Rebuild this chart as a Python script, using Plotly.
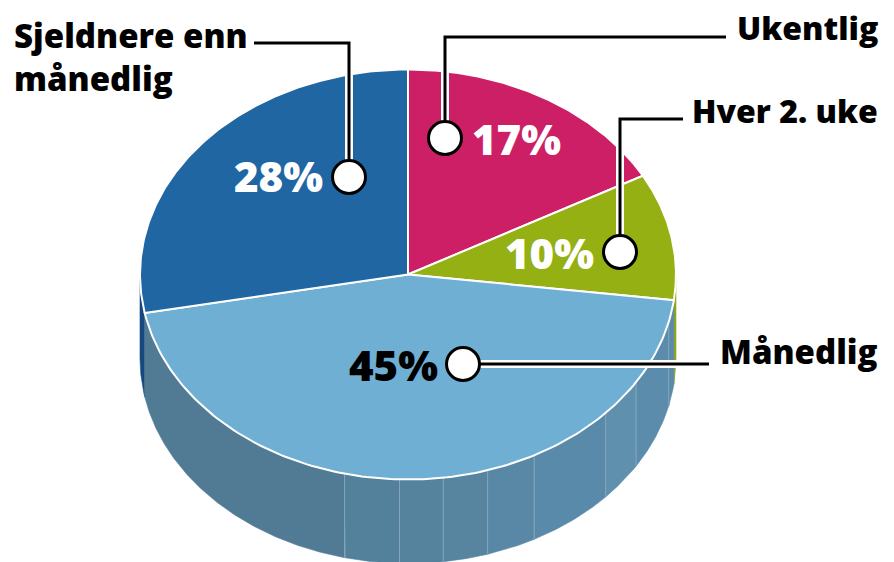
import numpy as np
import plotly.graph_objects as go

categories = ["Ukentlig", "Hver 2. uke", "Månedlig", "Sjeldnere enn<br>månedlig"]
values = [17, 10, 45, 28]
top_colors = ["#cc1f66", "#94b012", "#6fafd4", "#1f66a3"]
wall_colors = ["#cc1f66", "#8fa814", "#5a8aa9", "#14487f"]
pct_colors = ["white", "white", "black", "white"]

# wall facet seams, as percent of the circle, and the facet shades between them
facet_edges = [27, 28.7, 33.8, 36.8, 42.2, 45.2, 47.9, 50.5, 53.8, 72]
facet_colors = ["#5a8aa9", "#5b8cab", "#5f90ae", "#5a8aa9", "#5888a6", "#57859f",
                "#55829d", "#53809a", "#517b95"]

CX, CY, RX, RY, DEPTH = 408, 274.5, 268, 205, 84
FONT = "Open Sans"


def arc(p0, p1, dy=0.0, n=160):
    a = np.linspace(p0, p1, n) * 2 * np.pi / 100
    return CX + RX * np.sin(a), CY - RY * np.cos(a) + dy


fig = go.Figure()


def poly(x, y, fill, line=None, width=0):
    fig.add_trace(go.Scatter(
        x=list(x) + [x[0]], y=list(y) + [y[0]], mode="lines", fill="toself", fillcolor=fill,
        line=dict(color=line or fill, width=width if line else 0),
        hoverinfo="skip", showlegend=False))


def wall(p0, p1, fill):
    x0, y0 = arc(p0, p1)
    x1, y1 = arc(p1, p0, DEPTH)
    poly(np.r_[x0, x1], np.r_[y0, y1], fill, fill, 0.6)


# side walls visible below the horizon (25% to 75% of the circle)
wall(25, 27, wall_colors[1])
wall(72, 75, wall_colors[3])
for c, p0, p1 in zip(facet_colors, facet_edges[:-1], facet_edges[1:]):
    wall(p0, p1, c)
for p in facet_edges[1:-1]:
    x0, y0 = arc(p, p, 0, 2)
    x1, y1 = arc(p, p, DEPTH, 2)
    fig.add_trace(go.Scatter(x=[x0[0], x1[0]], y=[y0[0], y1[0]], mode="lines",
                             line=dict(color="#86a7bd", width=1),
                             hoverinfo="skip", showlegend=False))

# top face
start = 0
for v, c in zip(values, top_colors):
    x, y = arc(start, start + v)
    poly(np.r_[CX, x], np.r_[CY, y], c, "white", 2)
    start += v

# leaders: anchor dot and elbow to the label
dots_x = [445, 620, 463, 349]
dots_y = [138, 252, 364, 177]
leader_x = [[445, 445, 726], [620, 620, 683], [463, 709], [349, 349, 254]]
leader_y = [[138, 37, 37], [252, 119, 119], [364, 364], [177, 43, 43]]
for lx, ly in zip(leader_x, leader_y):
    fig.add_trace(go.Scatter(x=lx, y=ly, mode="lines", line=dict(color="white", width=8),
                             hoverinfo="skip", showlegend=False))
for lx, ly in zip(leader_x, leader_y):
    fig.add_trace(go.Scatter(x=lx, y=ly, mode="lines", line=dict(color="black", width=3),
                             hoverinfo="skip", showlegend=False))
fig.add_trace(go.Scatter(x=dots_x, y=dots_y, mode="markers",
                         marker=dict(size=33, color="white", line=dict(color="black", width=3)),
                         hoverinfo="skip", showlegend=False))

# percent texts
pct_x = [516, 549, 393, 278]
pct_y = [138, 252, 364, 175]
for v, c, x, y in zip(values, pct_colors, pct_x, pct_y):
    fig.add_annotation(x=x, y=y, text=f"{v}%", showarrow=False,
                       font=dict(family=FONT, size=42, color=c, weight=800))

# category labels
label_x = [880, 880, 880, 12]
label_y = [27, 110, 351, 57]
label_anchor = ["right", "right", "right", "left"]
label_sizes = [32, 32, 33, 33]
for t, x, y, a, s in zip(categories, label_x, label_y, label_anchor, label_sizes):
    fig.add_annotation(x=x, y=y, text=t, showarrow=False,
                       xanchor=a, align="left",
                       font=dict(family=FONT, size=s, color="black", weight=800))

fig.update_layout(
    width=894, height=562, margin=dict(l=0, r=0, t=0, b=0),
    paper_bgcolor="white", plot_bgcolor="white", showlegend=False,
    xaxis=dict(range=[0, 894], visible=False, fixedrange=True),
    yaxis=dict(range=[562, 0], visible=False, fixedrange=True),
)
fig.write_html("out.html", config=dict(displayModeBar=False),
               post_script="document.body.style.margin='0';")
